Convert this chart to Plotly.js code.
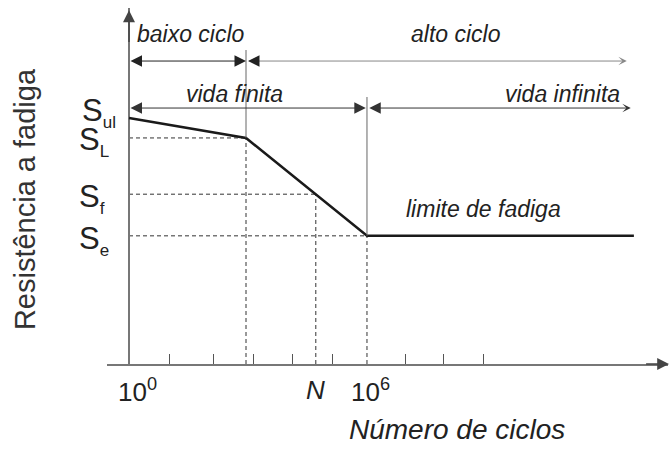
<!DOCTYPE html>
<html>
<head>
<meta charset="utf-8">
<script src="https://cdn.plot.ly/plotly-3.0.1.min.js"></script>
<style>
  html, body { margin: 0; padding: 0; background: #fff; }
  #fadiga { width: 669px; height: 453px; }
</style>
</head>
<body>
<div id="fadiga"></div>
<script>
  // curva S-N esquematica (x = log10 do numero de ciclos)
  var logN = [0, 2.95, 6, 12.73];
  var resistencia = [69.1, 63.5, 36.0, 36.0];

  // niveis de tensao marcados no eixo
  var indicesS = ['ul', 'L', 'f', 'e'];
  var valoresS = [69.1, 63.5, 47.7, 36.0];

  // ponto N (vida para S_f)
  var logNf = 4.71;

  // marcas do eixo x e rotulos
  var marcasX = [1.01, 2.12, 3.15, 4.13, 5.14, 6.98, 7.94, 8.95];
  var rotulosX = ['10<sup>0</sup>', '<i>N</i>', '10<sup>6</sup>'];
  var posRotulosX = [0, 4.71, 6];

  // faixas de vida
  var faixas = ['baixo ciclo', 'alto ciclo', 'vida finita', 'vida infinita'];
  var faixaIni = [0, 3.0, 0, 6.02];
  var faixaFim = [2.95, 12.55, 5.97, 12.65];

  var fonte = 'Liberation Sans, Arial, sans-serif';
  var corTexto = '#222';

  var curva = {
    x: logN,
    y: resistencia,
    type: 'scatter',
    mode: 'lines',
    line: { color: '#1a1a1a', width: 2.5 },
    hoverinfo: 'skip',
    showlegend: false
  };

  var shapes = [];
  var tracejado = { color: '#333', width: 1, dash: '4px,3px' };

  // guias tracejadas do joelho, do ponto N e do limite de fadiga
  var guiasX = [logN[1], logNf, logN[2]];
  var guiasY = [valoresS[1], valoresS[2], valoresS[3]];
  for (var i = 0; i < guiasX.length; i++) {
    shapes.push({ type: 'line', xref: 'x', yref: 'y', x0: 0, x1: guiasX[i], y0: guiasY[i], y1: guiasY[i], line: tracejado, layer: 'below' });
    shapes.push({ type: 'line', xref: 'x', yref: 'y', x0: guiasX[i], x1: guiasX[i], y0: 0, y1: guiasY[i], line: tracejado, layer: 'below' });
  }
  // divisorias solidas acima do joelho e do limite
  shapes.push({ type: 'line', xref: 'x', yref: 'y', x0: logN[1], x1: logN[1], y0: valoresS[1], y1: 88.2, line: { color: '#666', width: 1 } });
  shapes.push({ type: 'line', xref: 'x', yref: 'y', x0: logN[2], x1: logN[2], y0: valoresS[3], y1: 75.0, line: { color: '#666', width: 1 } });

  var ann = [];

  // setas das faixas
  var linhaY = [85.1, 85.1, 71.9, 71.9];
  var textoX = [1.56, 8.24, 2.65, 10.92];
  var textoY = [92.7, 92.7, 75.8, 75.8];
  var corLinha = ['#222', '#888', '#333', '#333'];
  for (var k = 0; k < faixas.length; k++) {
    var dupla = (k === 0 || k === 2);
    ann.push({
      xref: 'x', yref: 'y', axref: 'x', ayref: 'y',
      x: faixaFim[k], y: linhaY[k], ax: faixaIni[k], ay: linhaY[k],
      text: '', showarrow: true,
      arrowside: (k === 1) ? 'end' : 'end+start',
      arrowhead: dupla ? 2 : 3, arrowsize: dupla ? 2.3 : 1.4,
      startarrowhead: 2, startarrowsize: 2.3,
      arrowwidth: 1, arrowcolor: corLinha[k], standoff: 0, startstandoff: 0
    });
    ann.push({
      xref: 'x', yref: 'y', x: textoX[k], y: textoY[k],
      text: '<i>' + faixas[k] + '</i>', showarrow: false,
      font: { family: fonte, size: 23, color: corTexto }
    });
  }
  // ponta preta do inicio de "alto ciclo"
  ann.push({
    xref: 'x', yref: 'y', axref: 'x', ayref: 'y',
    x: faixaIni[1], y: linhaY[1], ax: faixaIni[1] + 0.3, ay: linhaY[1],
    text: '', showarrow: true, arrowhead: 2, arrowsize: 2.3, arrowwidth: 1,
    arrowcolor: '#222', standoff: 0
  });

  // setas dos eixos
  ann.push({
    xref: 'x', yref: 'y', axref: 'x', ayref: 'y',
    x: 0, y: 99.4, ax: 0, ay: 90, text: '', showarrow: true,
    arrowhead: 2, arrowsize: 1.6, arrowwidth: 1.5, arrowcolor: '#444', standoff: 0
  });
  ann.push({
    xref: 'x', yref: 'y', axref: 'x', ayref: 'y',
    x: 13.62, y: 0, ax: 13.0, ay: 0, text: '', showarrow: true,
    arrowhead: 2, arrowsize: 1.6, arrowwidth: 1.5, arrowcolor: '#444', standoff: 0
  });

  // rotulos S
  var desvioS = [-6, 4, 4, 5];
  var bordaS = [0, -7, -11, -7];
  for (var s = 0; s < indicesS.length; s++) {
    ann.push({
      xref: 'x', yref: 'y', x: -0.28, y: valoresS[s], yshift: -desvioS[s],
      xanchor: 'right', xshift: bordaS[s], yanchor: 'middle',
      text: 'S<sub><span style="font-size:17px">' + indicesS[s] + '</span></sub>', showarrow: false,
      font: { family: fonte, size: 31, color: corTexto }
    });
  }

  // rotulos do eixo x
  var ancoraX = ['left', 'center', 'left'];
  var deslocX = [-13, 0, -18];
  for (var r = 0; r < rotulosX.length; r++) {
    ann.push({
      xref: 'x', yref: 'y', x: posRotulosX[r], y: 0, yshift: -26,
      xanchor: ancoraX[r], xshift: deslocX[r], yanchor: 'middle',
      text: rotulosX[r], showarrow: false,
      font: { family: fonte, size: 26, color: corTexto }
    });
  }

  ann.push({
    xref: 'x', yref: 'y', x: 8.95, y: 43.5,
    text: '<i>limite de fadiga</i>', showarrow: false,
    font: { family: fonte, size: 23, color: corTexto }
  });
  ann.push({
    xref: 'paper', yref: 'paper', x: 0.624, y: -0.185,
    xanchor: 'center', yanchor: 'middle',
    text: '<i>Número de ciclos</i>', showarrow: false,
    font: { family: fonte, size: 28, color: corTexto }
  });
  ann.push({
    xref: 'paper', yref: 'paper', x: -0.146, y: 0.4635, textangle: -90,
    xanchor: 'center', yanchor: 'middle',
    text: 'Resistência a fadiga', showarrow: false,
    font: { family: fonte, size: 29, color: '#333' }
  });

  var layout = {
    width: 669,
    height: 453,
    margin: { l: 107, r: 1, t: 8, b: 89 },
    paper_bgcolor: '#fff',
    plot_bgcolor: '#fff',
    showlegend: false,
    xaxis: {
      range: [-0.555, 13.59],
      showgrid: false,
      zeroline: true, zerolinecolor: '#777', zerolinewidth: 1.5,
      showline: true, linecolor: '#777', linewidth: 1.5,
      tickmode: 'array', tickvals: marcasX,
      ticks: 'inside', ticklen: 10, tickcolor: '#555', tickwidth: 1,
      showticklabels: false, fixedrange: true
    },
    yaxis: {
      range: [0, 100],
      showgrid: false, zeroline: false, showline: false,
      showticklabels: false, ticks: '', fixedrange: true
    },
    shapes: shapes,
    annotations: ann
  };

  Plotly.newPlot('fadiga', [curva], layout, { displayModeBar: false, staticPlot: true });
</script>
</body>
</html>
